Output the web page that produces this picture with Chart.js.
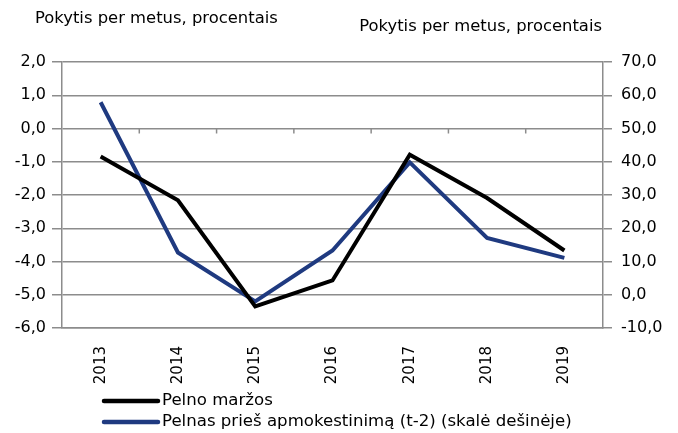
<!DOCTYPE html>
<html>
<head>
<meta charset="utf-8">
<script src="https://cdn.jsdelivr.net/npm/chart.js@4"></script>
<style>
  body { margin: 0; background: #fff; }
  #wrap { width: 678px; height: 433px; }
</style>
</head>
<body>
<div id="wrap"><canvas id="myChart" width="678" height="433"></canvas></div>
<script>
const years = ['2013', '2014', '2015', '2016', '2017', '2018', '2019'];
const pelnoMarzos = [-0.84, -2.16, -5.35, -4.57, -0.79, -2.09, -3.67];      // left axis
const pelnasPriesMok = [57.9, 12.7, -2.0, 13.3, 39.8, 17.1, 11.1];          // right axis
const seriesNames = ['Pelno maržos', 'Pelnas prieš apmokestinimą (t-2) (skalė dešinėje)'];
const axisTitle = 'Pokytis per metus, procentais';

const FONT = '"DejaVu Sans", sans-serif';
const GRID = '#8c8c8c';
const fmt = v => v.toFixed(1).replace('.', ',');

// titles, legend rows and the small category ticks on the zero line
const extras = {
  id: 'extras',
  afterDraw(chart) {
    const c = chart.ctx;
    const x = chart.scales.x, yl = chart.scales.yL;
    c.save();
    c.fillStyle = '#000';
    c.font = '16.4px ' + FONT;
    c.textBaseline = 'middle';
    c.textAlign = 'left';
    c.fillText(axisTitle, 35, 19);
    c.textAlign = 'right';
    c.fillText(axisTitle, 602, 27);

    // category boundary ticks on the 0 line
    const y0 = yl.getPixelForValue(0);
    c.strokeStyle = GRID;
    c.lineWidth = 1.5;
    for (let i = 1; i < years.length; i++) {
      const bx = (x.getPixelForTick(i - 1) + x.getPixelForTick(i)) / 2;
      c.beginPath();
      c.moveTo(bx, y0);
      c.lineTo(bx, y0 + 5);
      c.stroke();
    }

    // legend, one row per series
    c.font = '16.6px ' + FONT;
    chart.data.datasets.forEach((ds, i) => {
      const ly = 401 + i * 21;
      c.strokeStyle = ds.borderColor;
      c.lineWidth = 4.5;
      c.lineCap = 'round';
      c.beginPath();
      c.moveTo(104, ly);
      c.lineTo(158, ly);
      c.stroke();
      c.textAlign = 'left';
      c.fillStyle = '#000';
      c.fillText(ds.label, 162, ly);
    });
    c.restore();
  }
};

new Chart(document.getElementById('myChart'), {
  type: 'line',
  data: {
    labels: years,
    datasets: [{
      label: seriesNames[0],
      data: pelnoMarzos,
      borderColor: '#000000',
      borderWidth: 4,
      pointRadius: 0,
      yAxisID: 'yL'
    }, {
      label: seriesNames[1],
      data: pelnasPriesMok,
      borderColor: '#1f3a80',
      borderWidth: 4,
      pointRadius: 0,
      yAxisID: 'yR'
    }]
  },
  options: {
    responsive: false,
    animation: false,
    layout: { padding: { top: 62, left: 0, right: 0, bottom: 0 } },
    plugins: { legend: { display: false }, tooltip: { enabled: false } },
    scales: {
      x: {
        offset: true,
        grid: { display: false },
        border: { display: true, color: GRID, width: 1.5 },
        ticks: { minRotation: 90, maxRotation: 90, color: '#000', padding: 10, font: { family: FONT, size: 15 } },
        afterFit: s => { s.height = 105; }
      },
      yL: {
        position: 'left',
        min: -6, max: 2,
        ticks: { stepSize: 1, callback: fmt, color: '#000', padding: 6, font: { family: FONT, size: 16 } },
        grid: { color: GRID, lineWidth: 1.5, tickLength: 10 },
        border: { color: GRID, width: 1.5 },
        afterFit: s => { s.width = 62; }
      },
      yR: {
        position: 'right',
        min: -10, max: 70,
        ticks: { stepSize: 10, callback: fmt, color: '#000', padding: 9, font: { family: FONT, size: 16 } },
        grid: { drawOnChartArea: false, color: GRID, lineWidth: 1.5, tickLength: 9 },
        border: { color: GRID, width: 1.5 },
        afterFit: s => { s.width = 75; }
      }
    }
  },
  plugins: [extras]
});
</script>
</body>
</html>
